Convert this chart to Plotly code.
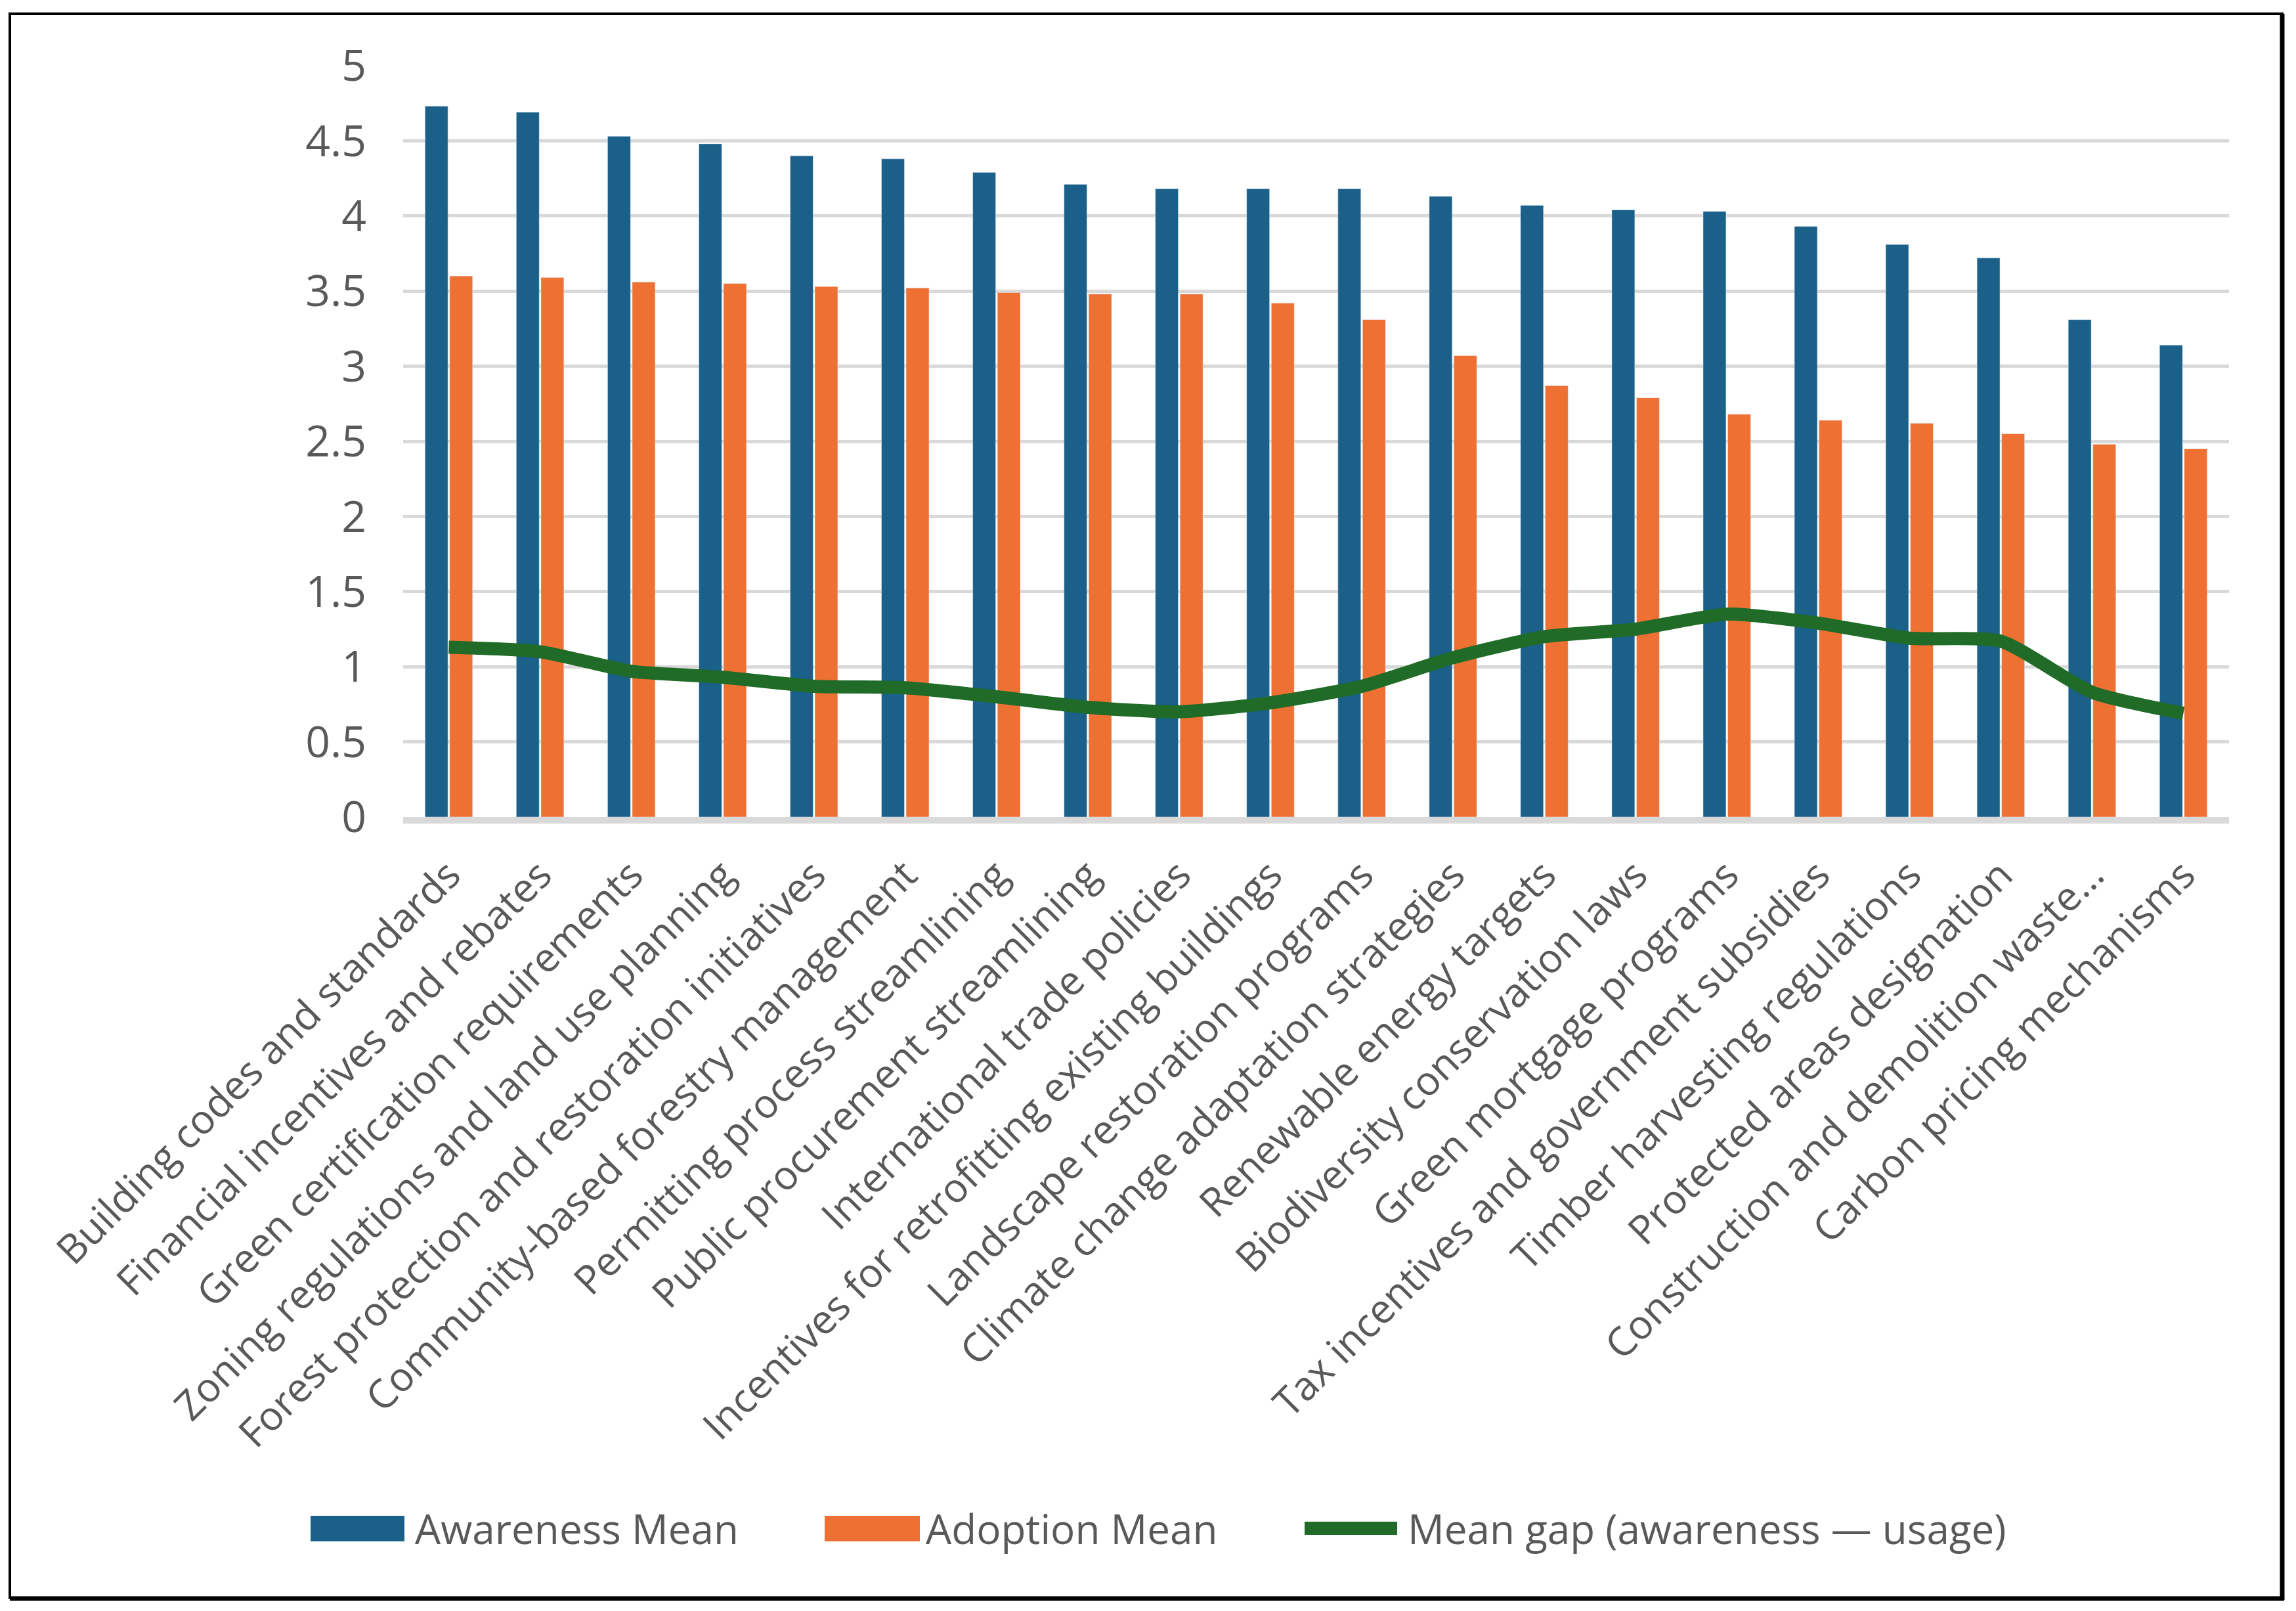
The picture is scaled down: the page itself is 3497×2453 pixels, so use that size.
import plotly.graph_objects as go

categories = [
    "Building codes and standards",
    "Financial incentives and rebates",
    "Green certification requirements",
    "Zoning regulations and land use planning",
    "Forest protection and restoration initiatives",
    "Community-based forestry management",
    "Permitting process streamlining",
    "Public procurement streamlining",
    "International trade policies",
    "Incentives for retrofitting existing buildings",
    "Landscape restoration programs",
    "Climate change adaptation strategies",
    "Renewable energy targets",
    "Biodiversity conservation laws",
    "Green mortgage programs",
    "Tax incentives and government subsidies",
    "Timber harvesting regulations",
    "Protected areas designation",
    "Construction and demolition waste…",
    "Carbon pricing mechanisms",
]
awareness = [4.73, 4.69, 4.53, 4.48, 4.40, 4.38, 4.29, 4.21, 4.18, 4.18,
             4.18, 4.13, 4.07, 4.04, 4.03, 3.93, 3.81, 3.72, 3.31, 3.14]
adoption = [3.60, 3.59, 3.56, 3.55, 3.53, 3.52, 3.49, 3.48, 3.48, 3.42,
            3.31, 3.07, 2.87, 2.79, 2.68, 2.64, 2.62, 2.55, 2.48, 2.45]
gap = [1.13, 1.10, 0.97, 0.93, 0.87, 0.86, 0.80, 0.73, 0.70, 0.76,
       0.87, 1.06, 1.20, 1.25, 1.35, 1.29, 1.19, 1.17, 0.83, 0.69]

series_names = ["Awareness Mean", "Adoption Mean", "Mean gap (awareness — usage)"]
y_ticks = [0, 0.5, 1, 1.5, 2, 2.5, 3, 3.5, 4, 4.5, 5]

# the page adds an 8px body margin, so work in page pixels minus 8
OFF = 8
W, H = 3497 - 2 * OFF, 2453 - 2 * OFF
L, R, T, B = 614 - OFF, 3395 - OFF, 100 - OFF, 1244 - OFF   # plot area
BLUE = "#1a6088"
ORANGE = "#ee7033"
GREEN = "#1f6b27"
GREY_TXT = "#595959"
FONT = "Open Sans"


def px_x(p):
    return (p - OFF - L) / (R - L)


def px_y(p):
    return (B - (p - OFF)) / (B - T)


fig = go.Figure()
fig.add_trace(go.Bar(x=categories, y=awareness, name=series_names[0],
                     marker_color=BLUE, showlegend=False))
fig.add_trace(go.Bar(x=categories, y=adoption, name=series_names[1],
                     marker_color=ORANGE, showlegend=False))
fig.add_trace(go.Scatter(x=categories, y=gap, name=series_names[2], mode="lines",
                         line=dict(color=GREEN, width=20, shape="spline", smoothing=0.6),
                         showlegend=False))

# hand-made legend below the chart (wide swatches like the original)
leg_y = 2327
shapes = [
    dict(type="rect", xref="paper", yref="paper", x0=px_x(473), x1=px_x(616),
         y0=px_y(2308), y1=px_y(2347), fillcolor=BLUE, line_width=0),
    dict(type="rect", xref="paper", yref="paper", x0=px_x(1256), x1=px_x(1401),
         y0=px_y(2308), y1=px_y(2347), fillcolor=ORANGE, line_width=0),
    dict(type="line", xref="paper", yref="paper", x0=px_x(1987), x1=px_x(2128),
         y0=px_y(leg_y), y1=px_y(leg_y), line=dict(color=GREEN, width=20)),
    # outer frame, heavier on the right and bottom
    dict(type="rect", xref="paper", yref="paper", x0=px_x(15), x1=px_x(3476),
         y0=px_y(2433), y1=px_y(21), line=dict(color="black", width=4)),
    dict(type="line", xref="paper", yref="paper", x0=px_x(3476), x1=px_x(3476),
         y0=px_y(2436), y1=px_y(21), line=dict(color="black", width=7)),
    dict(type="line", xref="paper", yref="paper", x0=px_x(15), x1=px_x(3479),
         y0=px_y(2434), y1=px_y(2434), line=dict(color="black", width=7)),
]
annotations = []
for x_left, txt in [(630, series_names[0]), (1408, series_names[1]), (2142, series_names[2])]:
    annotations.append(dict(xref="paper", yref="paper", x=px_x(x_left), y=px_y(leg_y),
                            text=txt, showarrow=False, xanchor="left", yanchor="middle",
                            font=dict(family=FONT, size=62, color=GREY_TXT)))

fig.update_layout(
    width=W, height=H,
    margin=dict(l=L, r=W - R, t=T, b=H - B, autoexpand=False),
    paper_bgcolor="white", plot_bgcolor="white",
    barmode="group", bargap=0.46, bargroupgap=0.07,
    font=dict(family=FONT, color=GREY_TXT),
    shapes=shapes, annotations=annotations,
)
fig.update_yaxes(range=[0, 5], tickvals=y_ticks, ticktext=[f"{v:g}" for v in y_ticks],
                 showgrid=True, gridcolor="#d9d9d9", gridwidth=5, zeroline=False,
                 tickfont=dict(family=FONT, size=66, color=GREY_TXT),
                 ticks="", ticklabelstandoff=55)
fig.update_xaxes(tickangle=-45, tickfont=dict(family=FONT, size=61, color=GREY_TXT),
                 showline=True, linecolor="#d9d9d9", linewidth=10, ticks="",
                 ticklabelstandoff=18)

fig.write_html("out.html")
